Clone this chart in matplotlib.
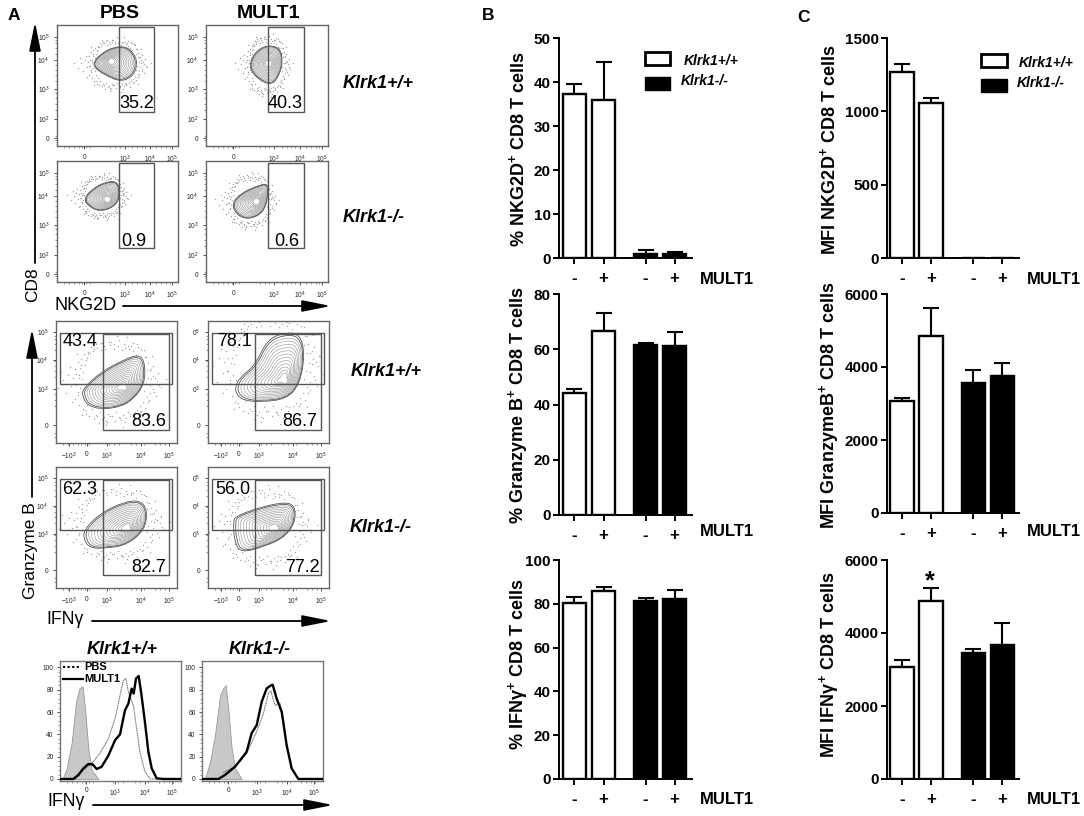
"""Flow cytometry panels (A) and bar charts (B, C) for Klrk1+/+ and Klrk1-/- CD8 T cells."""

import matplotlib
matplotlib.use("Agg")
import matplotlib.pyplot as plt
import numpy as np
from matplotlib.patches import PathPatch, Rectangle
from matplotlib.path import Path
from matplotlib.transforms import Affine2D

plt.rcParams['font.family'] = ['Liberation Sans', 'DejaVu Sans']
plt.rcParams['mathtext.fontset'] = 'custom'
plt.rcParams['mathtext.rm'] = 'Liberation Sans'
plt.rcParams['mathtext.bf'] = 'Liberation Sans:bold'
plt.rcParams['mathtext.default'] = 'regular'

W, H = 1084, 816

# bar charts: mean and upper error per group (WT -, WT +, KO -, KO +)
bar_groups = ['-', '+', '-', '+']
nkg2d_pct = [37.3, 36.0, 1.0, 0.8]
nkg2d_pct_err = [2.3, 8.6, 0.8, 0.5]
gzmb_pct = [44.0, 66.5, 61.5, 61.0]
gzmb_pct_err = [1.7, 6.5, 0.8, 5.2]
ifng_pct = [80.5, 86.0, 81.5, 82.0]
ifng_pct_err = [2.5, 1.5, 1.0, 4.2]
nkg2d_mfi = [1270, 1060, 0, 0]
nkg2d_mfi_err = [55, 30, 0, 0]
gzmb_mfi = [3080, 4850, 3560, 3760]
gzmb_mfi_err = [80, 780, 370, 360]
ifng_mfi = [3080, 4890, 3460, 3680]
ifng_mfi_err = [190, 340, 110, 590]

# flow plots: outer contour in percent of the frame (x, y up), and contour core
cd8_wt_pbs_x = [30, 36, 47, 58, 64.6, 66.3, 63, 53, 41, 31.5]
cd8_wt_pbs_y = [69, 76, 82, 82, 75, 67, 58, 53, 58, 64]
cd8_wt_pbs_core = (45, 70)
cd8_wt_mult_x = [36, 41.4, 51, 60.5, 63, 60.5, 53.7, 42.7, 36.5]
cd8_wt_mult_y = [69, 79, 83.5, 81, 71, 59, 50, 55, 63]
cd8_wt_mult_core = (51, 69)
cd8_ko_pbs_x = [22, 30, 41, 50.7, 52, 48, 35.6, 26]
cd8_ko_pbs_y = [69, 77.7, 83, 83, 71, 62.5, 58, 62.5]
cd8_ko_pbs_core = (41, 69)
cd8_ko_mult_x = [21, 29, 41, 51, 51, 47, 34.5, 25]
cd8_ko_mult_y = [65, 73.5, 79, 82, 71, 57, 51.5, 55.6]
cd8_ko_mult_core = (41, 67)

gzb_wt_pbs_x = [22, 37, 55.6, 68, 73.4, 73.4, 64, 53, 37, 26, 22]
gzb_wt_pbs_y = [44.5, 58, 68, 72.6, 67, 48.6, 36, 29.5, 27.6, 31, 37.8]
gzb_wt_pbs_core = (55, 46)
gzb_wt_mult_x = [22.5, 26.5, 39, 48.5, 62, 76, 80, 76, 65, 43, 29.3, 23.3]
gzb_wt_mult_y = [46, 54, 63.7, 84, 90.4, 89.6, 73, 48.6, 36, 33.6, 35, 40]
gzb_wt_mult_core = (63, 52)
gzb_ko_pbs_x = [23, 36.4, 55.6, 69.3, 75.6, 73.4, 58.4, 42, 28.2, 23]
gzb_ko_pbs_y = [48, 61.6, 71, 72.6, 64.4, 48, 35.6, 32.9, 32.9, 39.7]
gzb_ko_pbs_core = (59, 50)
gzb_ko_mult_x = [21, 22.5, 40, 62, 72, 72, 62, 45.8, 26.6, 21.6]
gzb_ko_mult_y = [54.8, 59, 65.8, 71, 68.5, 53.4, 41, 34.2, 28.8, 39.7]
gzb_ko_mult_core = (55, 50)

ring_scales = [1.0, 0.95, 0.89, 0.83, 0.76, 0.69, 0.62, 0.55, 0.48, 0.41, 0.34, 0.27, 0.2, 0.14]

# background events, relative to contour centre (1 = contour half-width)
speck_dx = [-1.9, -1.7, -1.6, -1.55, -1.45, -1.4, -1.35, -1.3, -1.25, -1.2, -1.2, -1.15, -1.1, -1.1,
            -1.05, -1.05, -1.0, -0.95, -0.9, -0.85, -0.8, -0.75, -0.7, -0.6, -0.55, -0.5, -0.4, -0.35,
            -0.3, -0.2, -0.15, -0.1, 0.0, 0.05, 0.15, 0.2, 0.3, 0.35, 0.45, 0.5, 0.6, 0.65, 0.75, 0.8,
            0.85, 0.95, 1.0, 1.05, 1.05, 1.1, 1.1, 1.15, 1.2, 1.2, 1.25, 1.3, 1.35, 1.4, -0.98, -0.62,
            0.42, 0.72, -1.28, 1.18, -0.25, 0.28, 0.92, -0.82, -1.12, 1.02, 0.1, -0.45]
speck_dy = [0.1, -0.2, 0.35, 0.05, -0.4, 0.25, 0.5, -0.15, 0.15, -0.6, 0.45, -0.1, 0.7, -0.35,
            0.25, -0.8, 0.6, -0.95, 0.95, -1.1, 1.05, -1.2, 1.2, -1.25, 1.3, -1.2, 1.35, -1.3,
            1.25, -1.4, 1.4, -1.2, 1.3, -1.35, 1.45, -1.25, 1.3, -1.4, 1.25, -1.2, 1.35, -1.3,
            1.2, -1.05, 1.15, -0.9, 0.85, -0.7, 0.65, -0.4, 0.4, 0.1, -0.25, 0.55, 0.15, -0.5,
            0.3, -0.1, -1.15, 1.4, 1.55, 1.3, -0.7, 0.9, -1.5, -1.55, 1.1, 0.82, 0.98, -1.1, 1.58, -1.42]

# histograms: x in percent of the frame, y in % of max
hist_wt_iso_x = [2.2, 5.5, 9.6, 13.2, 16, 18.7, 20.7, 23.4, 26.2, 31.7]
hist_wt_iso_y = [0, 9.5, 32, 69, 81, 83, 63, 27, 8, 0]
hist_wt_pbs_x = [12.4, 19.3, 27.5, 33, 40, 45.5, 49.6, 52.3, 54.5, 56.5, 60.6, 63.4, 66, 70.2, 74.4, 100]
hist_wt_pbs_y = [0, 8, 15.5, 23, 36, 54, 75, 88, 90, 78, 66, 45, 24.4, 6.5, 0, 0]
hist_wt_mult_x = [0, 11, 15.2, 19.3, 23.4, 27, 30.3, 34.4, 40, 45.5, 49.6, 53.7, 56.5, 59.2, 60.9, 62.8, 65,
                  67, 70.2, 73, 75.8, 79.9, 85.4, 100]
hist_wt_mult_y = [0, 0, 3.6, 9.5, 13.4, 13.1, 8.9, 11, 21, 34.8, 40, 61.5, 67.5, 80.9, 76.5, 89.9, 92.3,
                  78, 51, 24.4, 9.5, 0.6, 0, 0]
hist_ko_iso_x = [2.5, 6.6, 10.7, 14.9, 17.6, 19.6, 21.8, 24.5, 27.3, 32.8]
hist_ko_iso_y = [0, 15.5, 39, 75, 81.5, 84, 61.6, 27.4, 9.5, 0]
hist_ko_pbs_x = [17.6, 27.3, 36.9, 45.2, 50.7, 54.8, 57, 60.3, 64.5, 67.2, 70, 74.1, 79.6, 100]
hist_ko_pbs_y = [6, 11, 23, 42.3, 58.6, 76.5, 78.6, 66, 67.8, 54, 30, 9.5, 0, 0]
hist_ko_mult_x = [0, 13.5, 19, 27.3, 32.8, 36.9, 41, 45.2, 49.3, 53.4, 56.2, 58.4, 61.7, 65.9, 70, 74.1, 79.6, 100]
hist_ko_mult_y = [0, 0, 3.6, 11, 18.5, 24.4, 41, 48.2, 69, 81, 83.3, 84.5, 72, 60, 30, 9.5, 0, 0]

# minor ticks of the flow and histogram axes, percent of the frame
flow_minor_x = [6, 10, 14, 18, 21, 24, 27, 44, 48, 52, 62, 66, 70, 73, 82, 86, 90, 93]
flow_minor_y = [5, 8, 30, 35, 40, 44, 54, 59, 63, 67, 76, 81, 85, 88]
hist_minor_y = [4, 8, 12, 16, 24, 28, 32, 36, 44, 48, 52, 56, 64, 68, 72, 76, 84, 88, 92, 96]


def px_axes(fig, left, top, right, bottom):
    """Axes placed by reference pixel box."""
    return fig.add_axes([left / W, 1 - bottom / H, (right - left) / W, (bottom - top) / H])


def smooth_closed(x, y):
    """Closed path with quadratic curves through the outline midpoints."""
    pts = np.column_stack([x, y])
    mids = (pts + np.roll(pts, -1, axis=0)) / 2
    verts = [mids[-1]]
    codes = [Path.MOVETO]
    for p, m in zip(pts, mids):
        verts += [p, m]
        codes += [Path.CURVE3, Path.CURVE3]
    return Path(verts, codes)


def flow_frame(ax, xticks, xlabels, yticks, ylabels):
    ax.set_xlim(0, 100)
    ax.set_ylim(0, 100)
    for s in ax.spines.values():
        s.set_color('#666666')
        s.set_linewidth(1.0)
    ax.set_xticks(xticks, xlabels)
    ax.set_yticks(yticks, ylabels)
    ax.set_xticks(flow_minor_x, minor=True)
    ax.set_yticks(flow_minor_y, minor=True)
    ax.tick_params(length=2, width=0.6, color='#333333', labelsize=4.8, pad=3.5,
                   labelcolor='#222222')
    ax.tick_params(which='minor', length=1.2, width=0.4, color='#444444')


def draw_population(ax, x, y, core, speck_scale=1.0):
    """Background events plus nested contours of one flow plot."""
    cx = (min(x) + max(x)) / 2
    cy = (min(y) + max(y)) / 2
    rx = (max(x) - min(x)) / 2 * speck_scale
    ry = (max(y) - min(y)) / 2 * speck_scale
    dx = np.array(speck_dx)
    dy = np.array(speck_dy)
    ax.scatter(cx + dx * rx, cy + dy * ry, s=1.0, color='#a0a0a0', linewidths=0, zorder=1)
    ax.scatter(cx - dx * rx * 0.85, cy + dy * ry * 0.88, s=1.0, color='#a8a8a8',
               linewidths=0, zorder=1)
    outline = smooth_closed(x, y)
    for i, k in enumerate(ring_scales):
        tr = Affine2D().translate(-core[0], -core[1]).scale(k).translate(*core)
        ax.add_patch(PathPatch(tr.transform_path(outline), fill=i == 0, fc='white',
                               ec='#555555' if i < 2 else '#9c9c9c',
                               lw=0.6 if i < 2 else 0.45, zorder=2))
    ax.scatter([core[0]], [core[1]], s=14, color='white', linewidths=0, zorder=3)


def add_gate(ax, x0, y0, x1, y1):
    ax.add_patch(Rectangle((x0, y0), x1 - x0, y1 - y0, fill=False, ec='#555555',
                           lw=1.0, zorder=4))


def plot_cd8_panel(fig, box, outline_x, outline_y, core, ylabels):
    ax = px_axes(fig, *box)
    flow_frame(ax, [22.5, 56, 77, 95], ['0', '$10^{3}$', '$10^{4}$', '$10^{5}$'],
               [6.5, 22, 47, 71, 90], ylabels)
    draw_population(ax, outline_x, outline_y, core)
    add_gate(ax, 51.2, 28.5, 80.5, 98)


def plot_gzb_panel(fig, box, outline_x, outline_y, core, ylabels):
    ax = px_axes(fig, *box)
    flow_frame(ax, [10.4, 25.5, 42, 70, 93], ['$-10^{3}$', '0', '$10^{3}$', '$10^{4}$', '$10^{5}$'],
               [14.5, 44.5, 68, 91], ylabels)
    draw_population(ax, outline_x, outline_y, core, 1.05)
    add_gate(ax, 3, 48, 96, 90)
    add_gate(ax, 38.6, 10.4, 93, 89.6)


def plot_histogram(fig, box, iso, pbs, mult):
    ax = px_axes(fig, *box)
    ax.set_xlim(0, 100)
    ax.set_ylim(-1.8, 105.7)
    for s in ax.spines.values():
        s.set_color('#777777')
        s.set_linewidth(1.0)
    ax.fill_between(iso[0], 0, iso[1], color='#c8c8c8', lw=0.6, ec='#999999', zorder=1)
    ax.plot(pbs[0], pbs[1], color='#666666', lw=0.8, ls=(0, (1, 0.6)), zorder=2)
    ax.plot(mult[0], mult[1], color='black', lw=1.7, zorder=3)
    ax.set_xticks([21.8, 45.5, 70.5, 92.8], ['0', '$10^{3}$', '$10^{4}$', '$10^{5}$'])
    ax.set_yticks([0, 20, 40, 60, 80, 100])
    ax.set_xticks(flow_minor_x, minor=True)
    ax.set_yticks(hist_minor_y, minor=True)
    ax.tick_params(length=2, width=0.6, color='#333333', labelsize=4.8, pad=2.5,
                   labelcolor='#222222')
    ax.tick_params(which='minor', length=1.2, width=0.4, color='#444444')


def plot_bars(fig, box, xlim, ymax, step, values, errors):
    ax = px_axes(fig, *box)
    positions = [0, 1, 2.45, 3.45]
    colors = ['white', 'white', 'black', 'black']
    ax.bar(positions, values, width=0.8, color=colors, edgecolor='black', linewidth=1.7, zorder=2)
    for p, v, e in zip(positions, values, errors):
        if e > 0:
            ax.errorbar(p, v, yerr=[[0], [e]], color='black', capsize=6, elinewidth=1.5,
                        capthick=1.5, zorder=1)
    ax.set_xlim(*xlim)
    ax.set_ylim(0, ymax)
    ax.set_yticks(np.arange(0, ymax + 1, step))
    ax.set_xticks(positions, bar_groups)
    for s in ['top', 'right']:
        ax.spines[s].set_visible(False)
    for s in ['left', 'bottom']:
        ax.spines[s].set_linewidth(1.4)
    ax.tick_params(width=1.4, length=4.5)
    ax.tick_params(axis='y', labelsize=11, pad=1.5)
    ax.tick_params(axis='x', labelsize=12, pad=5)
    for lab in ax.get_xticklabels() + ax.get_yticklabels():
        lab.set_fontweight('bold')
    ax.patch.set_alpha(0)
    return ax


def add_arrow(ov, x0, y0, x1, y1):
    ov.annotate('', xy=(x1, y1), xytext=(x0, y0),
                arrowprops=dict(arrowstyle='-|>,head_length=1.25,head_width=0.25',
                                mutation_scale=14, color='black', lw=1.3,
                                shrinkA=0, shrinkB=0))


def add_bar_legend(ov, x0, x1, y_wt, y_ko, tx_wt, tx_ko):
    ov.add_patch(Rectangle((x0, y_wt), x1 - x0, 13, fc='white', ec='black', lw=2))
    ov.add_patch(Rectangle((x0, y_ko), x1 - x0, 13, fc='black', ec='black', lw=1))
    ov.text(tx_wt, y_wt + 9, 'Klrk1+/+', fontsize=10, fontweight='bold', style='italic', va='center')
    ov.text(tx_ko, y_ko + 4, 'Klrk1-/-', fontsize=10, fontweight='bold', style='italic', va='center')


def main():
    fig = plt.figure(figsize=(W / 100, H / 100), dpi=100, facecolor='white')

    # panel A, CD8 vs NKG2D
    cd8_y = ['0', '$10^{2}$', '$10^{3}$', '$10^{4}$', '$10^{5}$']
    plot_cd8_panel(fig, (57, 25, 178, 146), cd8_wt_pbs_x, cd8_wt_pbs_y, cd8_wt_pbs_core, cd8_y)
    plot_cd8_panel(fig, (206, 25, 328, 146), cd8_wt_mult_x, cd8_wt_mult_y, cd8_wt_mult_core, cd8_y)
    plot_cd8_panel(fig, (57, 161, 178, 282), cd8_ko_pbs_x, cd8_ko_pbs_y, cd8_ko_pbs_core, cd8_y)
    plot_cd8_panel(fig, (206, 161, 328, 282), cd8_ko_mult_x, cd8_ko_mult_y, cd8_ko_mult_core, cd8_y)

    # panel A, Granzyme B vs IFNg (right column labels are clipped in the original)
    gzb_y = ['0', '$10^{3}$', '$10^{4}$', '$10^{5}$']
    gzb_y_cut = ['0', '$0^{3}$', '$0^{4}$', '$0^{5}$']
    plot_gzb_panel(fig, (56, 321, 177, 443), gzb_wt_pbs_x, gzb_wt_pbs_y, gzb_wt_pbs_core, gzb_y)
    plot_gzb_panel(fig, (208, 321, 329, 443), gzb_wt_mult_x, gzb_wt_mult_y, gzb_wt_mult_core, gzb_y_cut)
    plot_gzb_panel(fig, (56, 467, 177, 588), gzb_ko_pbs_x, gzb_ko_pbs_y, gzb_ko_pbs_core, gzb_y)
    plot_gzb_panel(fig, (208, 467, 329, 588), gzb_ko_mult_x, gzb_ko_mult_y, gzb_ko_mult_core, gzb_y_cut)

    # panel A, histograms
    plot_histogram(fig, (60, 661, 181, 781), (hist_wt_iso_x, hist_wt_iso_y),
                   (hist_wt_pbs_x, hist_wt_pbs_y), (hist_wt_mult_x, hist_wt_mult_y))
    plot_histogram(fig, (202, 661, 323, 781), (hist_ko_iso_x, hist_ko_iso_y),
                   (hist_ko_pbs_x, hist_ko_pbs_y), (hist_ko_mult_x, hist_ko_mult_y))

    # panels B and C
    xlim_b = (-0.534, 4.05)
    xlim_c = (-0.517, 4.03)
    plot_bars(fig, (559, 38, 692, 258), xlim_b, 50, 10, nkg2d_pct, nkg2d_pct_err)
    plot_bars(fig, (559, 294, 692, 515), xlim_b, 80, 20, gzmb_pct, gzmb_pct_err)
    plot_bars(fig, (559, 560, 692, 779), xlim_b, 100, 20, ifng_pct, ifng_pct_err)
    plot_bars(fig, (887, 38, 1019, 258), xlim_c, 1500, 500, nkg2d_mfi, nkg2d_mfi_err)
    plot_bars(fig, (887, 294, 1019, 513), xlim_c, 6000, 2000, gzmb_mfi, gzmb_mfi_err)
    plot_bars(fig, (887, 560, 1019, 779), xlim_c, 6000, 2000, ifng_mfi, ifng_mfi_err)

    # overlay in reference pixels for labels and arrows
    ov = fig.add_axes([0, 0, 1, 1], zorder=10)
    ov.set_xlim(0, W)
    ov.set_ylim(H, 0)
    ov.axis('off')

    for txt, x, y in [('A', 14, 16), ('B', 488, 16), ('C', 803, 17)]:
        ov.text(x, y, txt, fontsize=12.5, fontweight='bold', ha='center', va='center')
    ov.text(120, 13, 'PBS', fontsize=14, fontweight='bold', ha='center', va='center')
    ov.text(268, 13, 'MULT1', fontsize=14, fontweight='bold', ha='center', va='center')

    for txt, x, y in [('Klrk1+/+', 343, 83), ('Klrk1-/-', 343, 217),
                      ('Klrk1+/+', 351, 372), ('Klrk1-/-', 350, 527)]:
        ov.text(x, y, txt, fontsize=13, fontweight='bold', style='italic', va='center')
    for txt, x in [('Klrk1+/+', 122), ('Klrk1-/-', 260)]:
        ov.text(x, 649, txt, fontsize=13, fontweight='bold', style='italic', ha='center', va='center')

    gate_numbers = [('35.2', 137, 104), ('40.3', 285, 104), ('0.9', 134, 241), ('0.6', 287, 241),
                    ('43.4', 80, 341), ('83.6', 149, 422), ('78.1', 235, 341), ('86.7', 300, 422),
                    ('62.3', 80, 489), ('82.7', 149, 568), ('56.0', 233, 489), ('77.2', 302, 568)]
    for txt, x, y in gate_numbers:
        ov.text(x, y, txt, fontsize=13, ha='center', va='center')

    add_arrow(ov, 35, 263, 35, 22)
    add_arrow(ov, 123, 306, 331, 306)
    add_arrow(ov, 32, 497, 32, 329)
    add_arrow(ov, 92, 621, 331, 621)
    add_arrow(ov, 93, 805, 333, 805)
    ov.text(33, 285, 'CD8', fontsize=12.5, rotation=90, ha='center', va='center')
    ov.text(86, 305, 'NKG2D', fontsize=13, ha='center', va='center')
    ov.text(30, 551, 'Granzyme B', fontsize=12.5, rotation=90, ha='center', va='center')
    ov.text(65, 620, 'IFNγ', fontsize=12.7, ha='center', va='center')
    ov.text(66, 802, 'IFNγ', fontsize=12.7, ha='center', va='center')

    # histogram key
    ov.plot([63, 80], [667, 667], color='black', lw=1.5, ls=(0, (1, 1.2)))
    ov.plot([63, 83], [679, 679], color='black', lw=1.6)
    ov.text(84, 667, 'PBS', fontsize=8, fontweight='bold', va='center')
    ov.text(84, 679, 'MULT1', fontsize=8, fontweight='bold', va='center')

    add_bar_legend(ov, 645, 670, 52, 77, 684, 681)
    add_bar_legend(ov, 981, 1007, 54, 79, 1019, 1017)

    bar_labels = [(518, 149, '% NKG2D$^{+}$ CD8 T cells'), (518, 405, '% Granzyme B$^{+}$ CD8 T cells'),
                  (518, 664, '% IFNγ$^{+}$ CD8 T cells'), (829, 150, 'MFI NKG2D$^{+}$ CD8 T cells'),
                  (829, 405, 'MFI GranzymeB$^{+}$ CD8 T cells'), (829, 665, 'MFI IFNγ$^{+}$ CD8 T cells')]
    for x, y, txt in bar_labels:
        ov.text(x, y, txt, fontsize=13, fontweight='bold', rotation=90, ha='center', va='center')

    for x, ys in [(700, (279, 532, 799)), (1027, (279, 532, 799))]:
        for y in ys:
            ov.text(x, y, 'MULT1', fontsize=12, fontweight='bold', va='center')
    ov.text(930, 581, '*', fontsize=18, fontweight='bold', ha='center', va='center')

    fig.savefig('out.png', dpi=100)
    plt.close(fig)


if __name__ == "__main__":
    main()
